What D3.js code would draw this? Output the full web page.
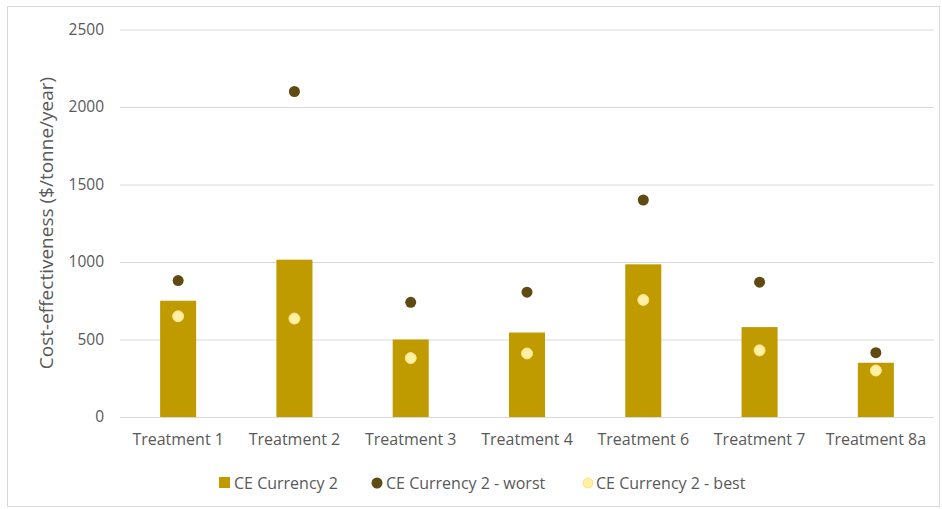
<!DOCTYPE html>
<html>
<head>
<meta charset="utf-8">
<script src="https://cdn.jsdelivr.net/npm/d3@7"></script>
<style>
  body { margin: 0; background: #fff; }
  svg text { font-family: "Open Sans", "Noto Sans", sans-serif; fill: #595959; }
</style>
</head>
<body>
<div id="chart"></div>
<script>
var categories = ["Treatment 1", "Treatment 2", "Treatment 3", "Treatment 4", "Treatment 6", "Treatment 7", "Treatment 8a"],
    ceValues = [750, 1015, 500, 545, 985, 580, 350],
    worstValues = [880, 2100, 740, 805, 1400, 870, 415],
    bestValues = [650, 635, 380, 410, 755, 430, 300],
    yTicks = [0, 500, 1000, 1500, 2000, 2500],
    seriesNames = ["CE Currency 2", "CE Currency 2 - worst", "CE Currency 2 - best"];

var W = 942, H = 509,
    margin = { top: 29.5, right: 8, bottom: 92, left: 120 },
    width = W - margin.left - margin.right,
    height = H - margin.top - margin.bottom;

var barColor = "#bf9b00", worstColor = "#5e4a12", bestColor = "#fff0a8";

var svg = d3.select("#chart").append("svg")
    .attr("width", W)
    .attr("height", H);

// chart frame
svg.append("rect")
    .attr("x", 7.5).attr("y", 6.5)
    .attr("width", W - 10).attr("height", H - 9)
    .attr("fill", "none")
    .attr("stroke", "#d9d9d9");

var g = svg.append("g")
    .attr("transform", "translate(" + margin.left + "," + margin.top + ")");

var x = d3.scaleBand()
    .domain(categories)
    .range([0, width])
    .paddingInner(0.69)
    .paddingOuter(0.345);

var y = d3.scaleLinear()
    .domain([0, 2500])
    .range([height, 0]);

// gridlines
var yAxis = g.append("g")
    .call(d3.axisLeft(y).tickValues(yTicks).tickFormat(d3.format("d")).tickSize(-width).tickPadding(16));
yAxis.select(".domain").remove();
yAxis.selectAll(".tick line").attr("stroke", "#d9d9d9");
yAxis.selectAll(".tick text")
    .style("font-size", "15.5px");

var xAxis = g.append("g")
    .attr("transform", "translate(0," + height + ")")
    .call(d3.axisBottom(x).tickSize(0).tickPadding(17));
xAxis.select(".domain").remove();
xAxis.selectAll(".tick text").style("font-size", "16px");

// bars
g.selectAll(".bar")
    .data(ceValues)
    .enter().append("rect")
    .attr("class", "bar")
    .attr("x", function(d, i) { return x(categories[i]); })
    .attr("y", function(d) { return y(d); })
    .attr("width", x.bandwidth())
    .attr("height", function(d) { return height - y(d); })
    .attr("fill", barColor);

// worst points
g.selectAll(".worst")
    .data(worstValues)
    .enter().append("circle")
    .attr("class", "worst")
    .attr("cx", function(d, i) { return x(categories[i]) + x.bandwidth() / 2; })
    .attr("cy", function(d) { return y(d); })
    .attr("r", 5.5)
    .attr("fill", worstColor);

// best points
g.selectAll(".best")
    .data(bestValues)
    .enter().append("circle")
    .attr("class", "best")
    .attr("cx", function(d, i) { return x(categories[i]) + x.bandwidth() / 2; })
    .attr("cy", function(d) { return y(d); })
    .attr("r", 5.5)
    .attr("fill", bestColor)
    .attr("stroke", "#ffe37a")
    .attr("stroke-width", 1);

// y axis title
svg.append("text")
    .attr("transform", "translate(53,223) rotate(-90)")
    .attr("text-anchor", "middle")
    .style("font-size", "19px")
    .text("Cost-effectiveness ($/tonne/year)");

// legend
var legendY = 483;
var legend = svg.append("g");
legend.append("rect")
    .attr("x", 219).attr("y", legendY - 6)
    .attr("width", 11).attr("height", 11)
    .attr("fill", barColor);
legend.append("text")
    .attr("x", 234).attr("y", legendY + 6)
    .style("font-size", "16px")
    .text(seriesNames[0]);
legend.append("circle")
    .attr("cx", 377).attr("cy", legendY)
    .attr("r", 5.5).attr("fill", worstColor);
legend.append("text")
    .attr("x", 386).attr("y", legendY + 6)
    .style("font-size", "16px")
    .text(seriesNames[1]);
legend.append("circle")
    .attr("cx", 588).attr("cy", legendY)
    .attr("r", 5).attr("fill", bestColor)
    .attr("stroke", "#ffe37a");
legend.append("text")
    .attr("x", 596).attr("y", legendY + 6)
    .style("font-size", "16px")
    .text(seriesNames[2]);
</script>
</body>
</html>
